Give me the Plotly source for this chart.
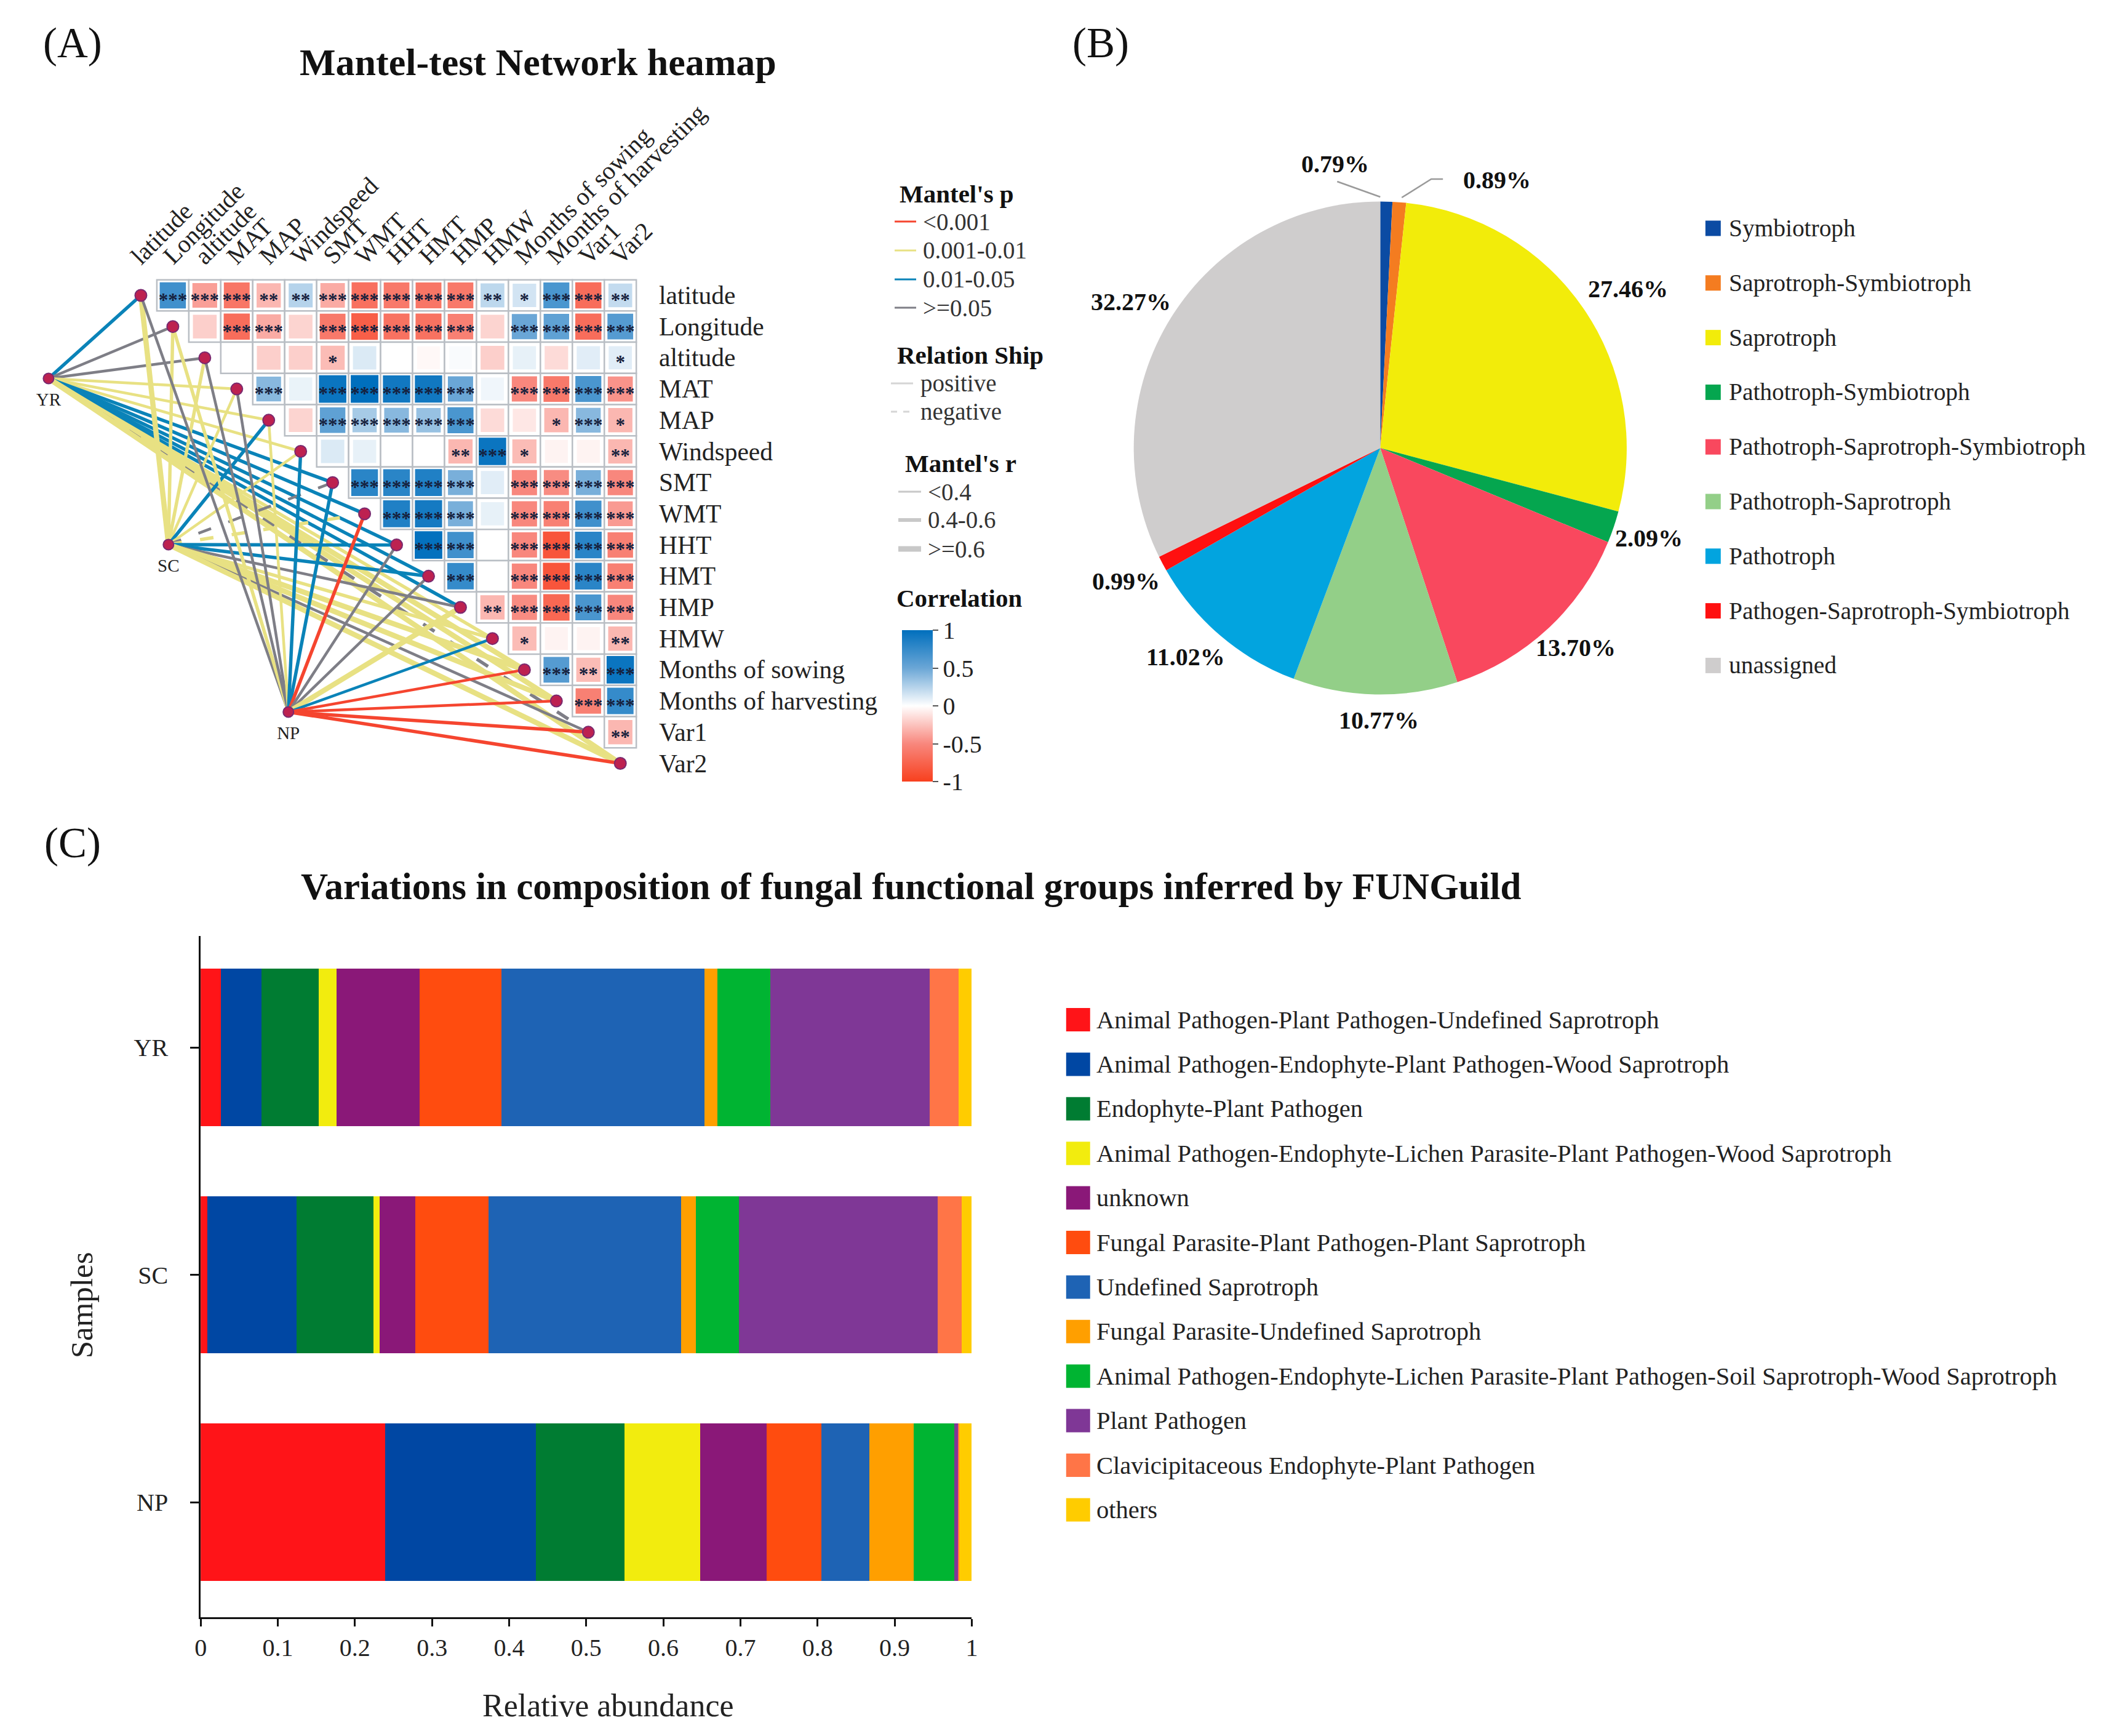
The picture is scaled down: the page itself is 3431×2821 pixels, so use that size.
import plotly.graph_objects as go

W, H = 3431, 2821
PAGE_PAD = 8  # default body margin of the page
SERIF = "Liberation Serif"

# ---------- Panel A data ----------
env = ["latitude", "Longitude", "altitude", "MAT", "MAP", "Windspeed", "SMT", "WMT", "HHT", "HMT", "HMP", "HMW",
       "Months of sowing", "Months of harvesting", "Var1", "Var2"]
# upper triangle, each row starts at the column after the diagonal
corr = [
    [0.70, -0.40, -0.62, -0.30, 0.25, -0.35, -0.66, -0.60, -0.62, -0.60, 0.22, 0.15, 0.65, -0.68, 0.20],
    [-0.20, -0.68, -0.35, -0.18, -0.60, -0.78, -0.65, -0.65, -0.55, -0.18, 0.50, 0.55, -0.68, 0.60],
    [0.0, -0.20, -0.20, -0.28, 0.12, 0.0, -0.03, 0.02, -0.20, 0.08, -0.15, 0.10, 0.10],
    [0.40, 0.07, 0.95, 1.00, 0.92, 0.92, 0.50, 0.05, -0.50, -0.60, 0.65, -0.45],
    [-0.18, 0.55, 0.30, 0.40, 0.35, 0.65, -0.15, -0.10, -0.30, 0.40, -0.30],
    [0.12, 0.08, 0.0, 0.0, -0.30, 0.95, -0.28, -0.05, -0.05, -0.30],
    [0.80, 0.80, 0.85, 0.45, 0.10, -0.50, -0.48, 0.45, -0.50],
    [0.85, 0.90, 0.45, 0.08, -0.50, -0.55, 0.70, -0.42],
    [0.98, 0.70, 0.0, -0.50, -0.85, 0.80, -0.55],
    [0.75, 0.0, -0.50, -0.85, 0.80, -0.55],
    [-0.30, -0.48, -0.72, 0.65, -0.50],
    [-0.28, -0.05, -0.05, -0.30],
    [0.60, -0.28, 0.95],
    [-0.55, 0.75],
    [-0.30],
]
stars = [
    ["***", "***", "***", "**", "**", "***", "***", "***", "***", "***", "**", "*", "***", "***", "**"],
    ["", "***", "***", "", "***", "***", "***", "***", "***", "", "***", "***", "***", "***"],
    ["", "", "", "*", "", "", "", "", "", "", "", "", "*"],
    ["***", "", "***", "***", "***", "***", "***", "", "***", "***", "***", "***"],
    ["", "***", "***", "***", "***", "***", "", "", "*", "***", "*"],
    ["", "", "", "", "**", "***", "*", "", "", "**"],
    ["***", "***", "***", "***", "", "***", "***", "***", "***"],
    ["***", "***", "***", "", "***", "***", "***", "***"],
    ["***", "***", "", "***", "***", "***", "***"],
    ["***", "", "***", "***", "***", "***"],
    ["**", "***", "***", "***", "***"],
    ["*", "", "", "**"],
    ["***", "**", "***"],
    ["***", "***"],
    ["**"],
]
sites = ["YR", "SC", "NP"]
# p class per environmental factor: r <0.001, y 0.001-0.01, b 0.01-0.05, g >=0.05
link_p = {
    "YR": list("bggyyybbbbbyyygy"),
    "SC": list("yyyybygybbgyyygy"),
    "NP": list("gyggybbrggybrrrr"),
}
# r class per factor: 1 <0.4, 2 0.4-0.6, 3 >=0.6
link_r = {
    "YR": [2, 1, 1, 1, 1, 1, 2, 2, 2, 2, 2, 2, 3, 3, 2, 3],
    "SC": [3, 2, 2, 1, 2, 1, 1, 2, 2, 2, 1, 2, 3, 3, 1, 3],
    "NP": [1, 2, 1, 1, 1, 2, 2, 2, 1, 1, 3, 1, 1, 1, 2, 2],
}
link_negative = {"YR": ["Var1"], "SC": ["SMT", "WMT"], "NP": []}

p_labels = ["<0.001", "0.001-0.01", "0.01-0.05", ">=0.05"]
rel_labels = ["positive", "negative"]
r_labels = ["<0.4", "0.4-0.6", ">=0.6"]

# ---------- Panel B data ----------
guilds = ["Symbiotroph", "Saprotroph-Symbiotroph", "Saprotroph", "Pathotroph-Symbiotroph",
          "Pathotroph-Saprotroph-Symbiotroph", "Pathotroph-Saprotroph", "Pathotroph",
          "Pathogen-Saprotroph-Symbiotroph", "unassigned"]
guild_pct = [0.79, 0.89, 27.46, 2.09, 13.70, 10.77, 11.02, 0.99, 32.27]

# ---------- Panel C data ----------
samples = ["NP", "SC", "YR"]
groups = ["Animal Pathogen-Plant Pathogen-Undefined Saprotroph",
          "Animal Pathogen-Endophyte-Plant Pathogen-Wood Saprotroph",
          "Endophyte-Plant Pathogen",
          "Animal Pathogen-Endophyte-Lichen Parasite-Plant Pathogen-Wood Saprotroph",
          "unknown",
          "Fungal Parasite-Plant Pathogen-Plant Saprotroph",
          "Undefined Saprotroph",
          "Fungal Parasite-Undefined Saprotroph",
          "Animal Pathogen-Endophyte-Lichen Parasite-Plant Pathogen-Soil Saprotroph-Wood Saprotroph",
          "Plant Pathogen",
          "Clavicipitaceous Endophyte-Plant Pathogen",
          "others"]
abund_YR = [.026, .053, .074, .023, .108, .106, .263, .017, .069, .206, .038, .017]
abund_SC = [.009, .115, .100, .008, .046, .095, .250, .019, .056, .258, .031, .013]
abund_NP = [.239, .196, .115, .098, .086, .071, .062, .058, .052, .006, .001, .016]

# ---------- Styles ----------
P_COL = {"r": "#f5452f", "y": "#e8e183", "b": "#0a83b8", "g": "#7e7e86"}
R_W = {1: 4.5, 2: 5.5, 3: 8.5}
GUILD_COL = ["#0b4ba3", "#f47c20", "#f2ec0a", "#05a64f", "#f9485e", "#93cf88", "#02a4df", "#ff1010", "#cfcdcd"]
GROUP_COL = ["#ff1418", "#0047a3", "#007c32", "#f2ec0e", "#8a1878", "#ff4c0f", "#1e63b4", "#ff9f00", "#00b432",
             "#7f3796", "#ff7547", "#ffcc00"]
CSCALE = [[0, "#f8401e"], [.25, "#f8877d"], [.5, "#ffffff"], [.75, "#6aa6d6"], [1, "#006fbd"]]

# Panel A pixel frame: column/row index <-> page pixel
COL0, COLSTEP, ROW0, ROWSTEP = 226.7, 52.0, 482.0, 50.7
A_L, A_R, A_T, A_B = 30, 1100, 60, 1300
col_at = lambda px: (px - COL0) / COLSTEP
row_at = lambda py: (py - ROW0) / ROWSTEP
SITE_POS = {"YR": (col_at(76.5), row_at(617)), "SC": (col_at(271.6), row_at(887)), "NP": (col_at(466.7), row_at(1159))}
FIG_W, FIG_H = W - 2 * PAGE_PAD, H - 2 * PAGE_PAD


def fx(px):
    return (((px - 7.6) / .9951) - PAGE_PAD) / FIG_W


def fy(py):
    return 1 - (py - 2 - PAGE_PAD) / FIG_H


fig = go.Figure()
shapes, annos = [], []


def note(text, px, py, size, bold=False, anchor="left", color="#111", angle=None):
    annos.append(dict(text=f"<b>{text}</b>" if bold else text, x=fx(px), y=fy(py), xref="paper", yref="paper",
                      xanchor=anchor, yanchor="middle", showarrow=False,
                      font=dict(family=SERIF, size=size, color=color), textangle=angle or 0))


def page_line(pts, color, width, dash="solid"):
    path = "M " + " L ".join(f"{fx(x)},{fy(y)}" for x, y in pts)
    shapes.append(dict(type="path", path=path, xref="paper", yref="paper", line=dict(color=color, width=width, dash=dash)))


def page_box(x0, y0, x1, y1, color):
    shapes.append(dict(type="rect", x0=fx(x0), x1=fx(x1), y0=fy(y0), y1=fy(y1), xref="paper", yref="paper",
                       fillcolor=color, line=dict(width=0)))


# ---------- Panel A: grid & cells ----------
cx, cy, cv, cs, ct = [], [], [], [], []
for i, row in enumerate(corr):
    for k, v in enumerate(row):
        c = i + 1 + k
        shapes.append(dict(type="rect", xref="x2", yref="y2", x0=c - .5, x1=c + .5, y0=i - .5, y1=i + .5,
                           layer="below", fillcolor="white", line=dict(color="#b9bec4", width=2.5)))
        cx.append(c); cy.append(i); cv.append(v); cs.append(37 + 8 * abs(v)); ct.append(stars[i][k])

fig.add_trace(go.Scatter(
    x=cx, y=cy, xaxis="x2", yaxis="y2", mode="markers", showlegend=False, hoverinfo="skip",
    marker=dict(symbol="square", size=cs, color=cv, cmin=-1, cmax=1, colorscale=CSCALE, line=dict(width=0),
                opacity=1, showscale=True,
                colorbar=dict(x=fx(1465), xanchor="left", xpad=0, ypad=0, y=fy(1149), yanchor="middle",
                              thickness=50, thicknessmode="pixels", len=246, lenmode="pixels", outlinewidth=0,
                              tickvals=[-1, -.5, 0, .5, 1], ticktext=["-1", "-0.5", "0", "0.5", "1"],
                              ticks="outside", ticklen=9, tickwidth=2, tickcolor="#555",
                              tickfont=dict(family=SERIF, size=40, color="#222")))))

# links
for s in sites:
    sx, sy = SITE_POS[s]
    for j, name in enumerate(env):
        dash = "22px,30px" if name in link_negative[s] else "solid"
        fig.add_trace(go.Scatter(x=[sx, j], y=[sy, j], xaxis="x2", yaxis="y2", mode="lines", showlegend=False,
                                 hoverinfo="skip",
                                 line=dict(color=P_COL[link_p[s][j]], width=R_W[link_r[s][j]], dash=dash)))

# nodes
fig.add_trace(go.Scatter(x=list(range(len(env))), y=list(range(len(env))), xaxis="x2", yaxis="y2", mode="markers",
                         showlegend=False, hoverinfo="skip",
                         marker=dict(size=19, color="#bd2150", line=dict(color="#7a2a70", width=2))))
fig.add_trace(go.Scatter(x=[SITE_POS[s][0] for s in sites], y=[SITE_POS[s][1] for s in sites], xaxis="x2", yaxis="y2",
                         mode="markers", showlegend=False, hoverinfo="skip",
                         marker=dict(size=17, color="#bd2150", line=dict(color="#7a2a70", width=2))))
fig.add_trace(go.Scatter(x=[SITE_POS[s][0] for s in sites], y=[SITE_POS[s][1] + .72 for s in sites], xaxis="x2",
                         yaxis="y2", mode="text", text=sites, textposition="middle center", showlegend=False,
                         hoverinfo="skip", textfont=dict(family=SERIF, size=29, color="#222")))
# stars
fig.add_trace(go.Scatter(x=cx, y=[v + .2 for v in cy], xaxis="x2", yaxis="y2", mode="text", text=ct,
                         textposition="middle center", showlegend=False, hoverinfo="skip",
                         textfont=dict(family=SERIF, size=31, color="#16203c", weight="bold")))

# row & column labels
for j, name in enumerate(env):
    annos.append(dict(text=name, x=col_at(1068), y=j, xref="x2", yref="y2", xanchor="left", yanchor="middle",
                      showarrow=False, font=dict(family=SERIF, size=41.5, color="#222")))
    annos.append(dict(text=name, x=j - .53, y=row_at(443), xref="x2", yref="y2", xanchor="left", yanchor="bottom",
                      textangle=-45, showarrow=False, font=dict(family=SERIF, size=40.5, color="#222")))

# legends of A
note("Mantel's p", 1459, 317, 41, True)
for lab, col, y in zip(p_labels, "rybg", [362, 409, 456, 502]):
    page_line([(1453, y), (1488, y)], P_COL[col], 3)
    note(lab, 1497, y, 39, color="#333")
note("Relation Ship", 1455, 579, 41, True)
for lab, y, d in zip(rel_labels, [625, 671], ["solid", "10px,10px"]):
    page_line([(1447, y), (1483, y)], "#d5d5d5", 3, d)
    note(lab, 1493, y, 39, color="#333")
note("Mantel's r", 1468, 755, 41, True)
for lab, y, w in zip(r_labels, [801, 847, 894], [3, 6, 9]):
    page_line([(1459, y), (1496, y)], "#c8c8c8", w)
    note(lab, 1505, y, 39, color="#333")
note("Correlation", 1454, 974, 41, True)

# ---------- Panel B ----------
cxb, cyb, rb = 2243, 730, 401
fig.add_trace(go.Pie(labels=guilds, values=guild_pct, sort=False, direction="clockwise", rotation=0,
                     marker=dict(colors=GUILD_COL, line=dict(width=0)), textinfo="none", hoverinfo="label+percent",
                     showlegend=False, domain=dict(x=[fx(cxb - rb), fx(cxb + rb)], y=[fy(cyb + rb), fy(cyb - rb)])))
pct_pos = [(2170, 268), (2433, 295), (2646, 472), (2680, 876), (2561, 1054), (2241, 1172), (1926, 1069), (1829, 946),
           (1837, 493)]
for v, (x, y) in zip(guild_pct, pct_pos):
    note(f"{v:.2f}%", x, y, 40, True, "center")
page_line([(2173, 297), (2243, 322)], "#9a9a9a", 2.5)
page_line([(2278, 323), (2326, 293), (2345, 293)], "#9a9a9a", 2.5)
for i, (g, c) in enumerate(zip(guilds, GUILD_COL)):
    y = 373 + i * 88.8
    page_box(2772, y - 12.5, 2797, y + 12.5, c)
    note(g, 2808, y, 39.4, color="#222")

# ---------- Panel C ----------
for i, g in enumerate(groups):
    fig.add_trace(go.Bar(y=samples, x=[abund_NP[i], abund_SC[i], abund_YR[i]], orientation="h", name=g,
                         marker=dict(color=GROUP_COL[i], line=dict(width=0)), showlegend=False, xaxis="x", yaxis="y"))
    y = 1659 + i * 72.4
    page_box(1732, y - 19, 1771, y + 19, GROUP_COL[i])
    note(g, 1779, y, 40.5, color="#222")

note("Relative abundance", 987, 2773, 52, color="#222", anchor="center")
note("Samples", 131, 2123, 51, color="#222", anchor="center", angle=-90)

# titles & panel letters
note("(A)", 116, 72, 69, anchor="center")
note("(B)", 1788, 72, 69, anchor="center")
note("(C)", 116, 1372, 69, anchor="center")
note("Mantel-test Network heamap", 873, 103, 62, True, "center")
note("Variations in composition of fungal functional groups inferred by FUNGuild", 1479, 1442, 61, True, "center")

fig.update_layout(
    width=FIG_W, height=FIG_H, margin=dict(l=0, r=0, t=0, b=0, pad=0), paper_bgcolor="white",
    plot_bgcolor="rgba(0,0,0,0)",
    barmode="stack", bargap=.308, shapes=shapes, annotations=annos, showlegend=False,
    font=dict(family=SERIF),
    xaxis=dict(domain=[fx(324), fx(1578.5)], range=[0, 1], tickvals=[i / 10 for i in range(11)],
               ticktext=["0", "0.1", "0.2", "0.3", "0.4", "0.5", "0.6", "0.7", "0.8", "0.9", "1"],
               ticks="outside", ticklen=12, tickwidth=3, tickcolor="#111", showline=True, linecolor="#111", linewidth=3,
               showgrid=False, zeroline=False, tickfont=dict(family=SERIF, size=40, color="#222"), ticklabelstandoff=0,
               anchor="y"),
    yaxis=dict(domain=[fy(2630), fy(1523)], range=[-.506, 2.49], type="category", categoryorder="array",
               categoryarray=samples, ticks="outside", ticklen=14, tickwidth=3, tickcolor="#111", showline=True,
               linecolor="#111", linewidth=3, showgrid=False, zeroline=False, ticklabelstandoff=28,
               tickfont=dict(family=SERIF, size=40, color="#222"), anchor="x"),
    xaxis2=dict(domain=[fx(A_L), fx(A_R)], range=[col_at(A_L), col_at(A_R)], visible=False, anchor="y2"),
    yaxis2=dict(domain=[fy(A_B), fy(A_T)], range=[row_at(A_B), row_at(A_T)], visible=False, anchor="x2"),
)

fig.write_html("out.html", config={"displayModeBar": False})
